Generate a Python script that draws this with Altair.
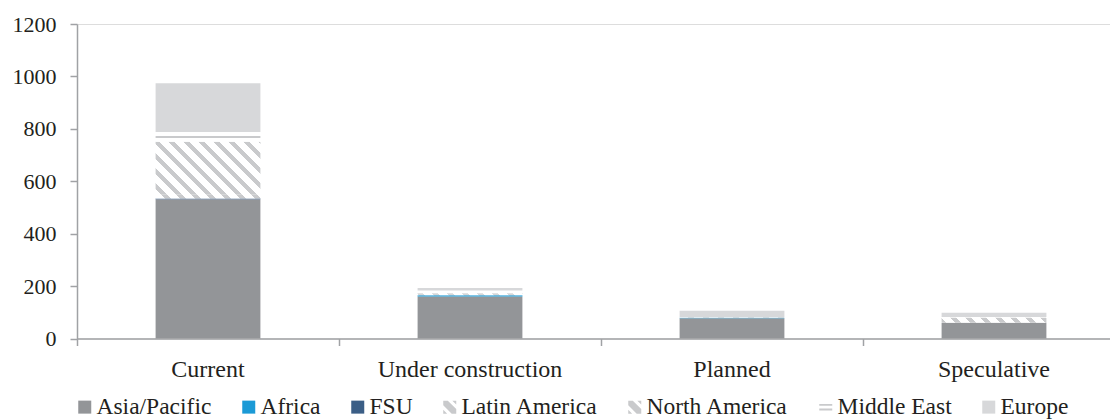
import altair as alt

# ---------------- data ----------------
categories = ["Current", "Under construction", "Planned", "Speculative"]
regions = ["Asia/Pacific", "Africa", "FSU", "Latin America",
           "North America", "Middle East", "Europe"]
asia_pacific = [531, 160, 77, 60]
africa = [0, 5, 2, 0]
fsu = [3, 0, 0, 0]
latin_america = [15, 3, 2, 2]
north_america = [202, 5, 0, 18]
middle_east = [37, 10, 0, 2]
europe = [186, 10, 25, 16]
y_ticks = [0, 200, 400, 600, 800, 1000, 1200]

series = [asia_pacific, africa, fsu, latin_america, north_america, middle_east, europe]

# ---------------- layout / style ----------------
PLOT_W = 1033
BAND_RANGE = 1048
PLOT_H = 314.5
Y_MAX = 1200
PAD_INNER, PAD_OUTER = 0.6, 0.3
step = BAND_RANGE / (len(categories) - PAD_INNER + 2 * PAD_OUTER)
bar_w = step * (1 - PAD_INNER)
ppu = PLOT_H / Y_MAX
# ticks sit half an inner gap before each band (Excel style "between categories")
TICK_BAND = -(PAD_INNER * step / 2) / bar_w

FONT = "Liberation Serif"
TEXT = "#231f20"
AXIS = "#a0a2a5"
SOLID = {
    "Asia/Pacific": "#939598",
    "Africa": "#1b9ad6",
    "FSU": "#3b5e86",
    "Europe": "#d7d8da",
}
INK = "#c9cacc"
PAPER = "#ffffff"


def hatch(w, h, top_px, period=15.0, frac=0.4):
    """Diagonal '\\' stripes at 45 degrees in pixel space (bbox gradient),
    phase-aligned to the plot so that stacked hatched pieces join up."""
    L = w + h
    phase = (top_px + h) % period
    stops = [{"offset": 0, "color": PAPER}]
    k = -1
    while phase + k * period < L:
        a = phase + k * period
        b = a + frac * period
        a0, b0 = max(a, 0.0), min(b, L)
        if b0 > a0:
            stops += [{"offset": a0 / L, "color": PAPER}, {"offset": a0 / L, "color": INK},
                      {"offset": b0 / L, "color": INK}, {"offset": b0 / L, "color": PAPER}]
        k += 1
    stops.append({"offset": 1, "color": PAPER})
    s = (w + h) / (w * w + h * h)
    return {"gradient": "linear", "x1": 0, "y1": 1, "x2": s * w, "y2": 1 - s * h,
            "stops": stops}


def hlines(h, spacing=9.0, lw=1.6):
    n = int(round(h / spacing))
    if n == 0:
        return PAPER
    half = lw / 2.0 / h
    stops = [{"offset": 0, "color": PAPER}]
    for j in range(n):
        c = (j + 0.5) / n
        stops += [{"offset": c - half, "color": PAPER}, {"offset": c - half, "color": INK},
                  {"offset": c + half, "color": INK}, {"offset": c + half, "color": PAPER}]
    stops.append({"offset": 1, "color": PAPER})
    return {"gradient": "linear", "x1": 0, "y1": 0, "x2": 0, "y2": 1, "stops": stops}


def paint(region, h, top_px):
    if region in SOLID:
        return SOLID[region]
    if region == "Middle East":
        return hlines(h)
    return hatch(bar_w, h, top_px)


rows = []
for ci, cat in enumerate(categories):
    running = 0
    for ri, (reg, vals) in enumerate(zip(regions, series)):
        v = vals[ci]
        if v <= 0:
            continue
        running += v
        top_px = (Y_MAX - running) * ppu
        rows.append({"category": cat, "region": reg, "value": v, "order": ri,
                     "paint": paint(reg, v * ppu, top_px)})

data = alt.Data(values=rows)

HATCH_ICON = ("M-1,-1 L-0.3,-1 L1,0.3 L1,1 L0.3,1 L-1,-0.3 Z "
              "M0.4,-1 L1,-1 L1,-0.4 Z M-1,0.4 L-1,1 L-0.4,1 Z")
LINES_ICON = "M-1,-0.5 L1,-0.5 L1,-0.2 L-1,-0.2 Z M-1,0.2 L1,0.2 L1,0.5 L-1,0.5 Z"
legend_colors = ["#939598", "#1b9ad6", "#3b5e86", INK, INK, INK, "#d7d8da"]
legend_shapes = ["square", "square", "square", HATCH_ICON, HATCH_ICON, LINES_ICON, "square"]

legend = alt.Legend(
    title=None, orient="none", direction="horizontal", legendX=-4, legendY=371,
    labelFont=FONT, labelFontSize=23.5, labelColor=TEXT, labelLimit=400,
    symbolSize=169, symbolStrokeWidth=0, symbolOpacity=1, labelOffset=0,
    columnPadding=25, padding=0,
)

base = alt.Chart(data).encode(
    x=alt.X("category:N", sort=categories, title=None,
            scale=alt.Scale(range=[0, BAND_RANGE], paddingInner=PAD_INNER,
                            paddingOuter=PAD_OUTER),
            axis=alt.Axis(labelAngle=0, bandPosition=TICK_BAND, tickSize=7,
                          tickWidth=1.5, tickColor=AXIS, domainColor=AXIS,
                          domainWidth=1.5, labelFont=FONT, labelFontSize=24,
                          labelColor=TEXT, labelPadding=12, labelLimit=400)),
    y=alt.Y("value:Q", stack="zero", title=None,
            scale=alt.Scale(domain=[0, Y_MAX], nice=False),
            axis=alt.Axis(values=y_ticks, format="d", grid=False, tickSize=7,
                          tickWidth=1.5, tickColor=AXIS, domainColor=AXIS,
                          domainWidth=1.5, labelFont=FONT, labelFontSize=22,
                          labelColor=TEXT, labelPadding=14)),
)

bars = base.mark_bar(strokeWidth=0).encode(
    order=alt.Order("order:Q", sort="ascending"),
    detail="region:N",
    fill=alt.Fill("paint:N", scale=None),
)

pts = base.mark_point(filled=True, opacity=0).encode(
    order=alt.Order("order:Q", sort="ascending"),
    color=alt.Color("region:N", scale=alt.Scale(domain=regions, range=legend_colors),
                    legend=legend),
    shape=alt.Shape("region:N", scale=alt.Scale(domain=regions, range=legend_shapes),
                    legend=legend),
)

chart = alt.layer(bars, pts).properties(
    width=PLOT_W, height=PLOT_H,
    padding={"left": 77, "top": 24, "right": 0, "bottom": 80.5},
    autosize=alt.AutoSizeParams(type="none"),
).configure_view(stroke=None).configure(background="white")

chart.save("out.html", embed_options={"renderer": "svg", "actions": False})
